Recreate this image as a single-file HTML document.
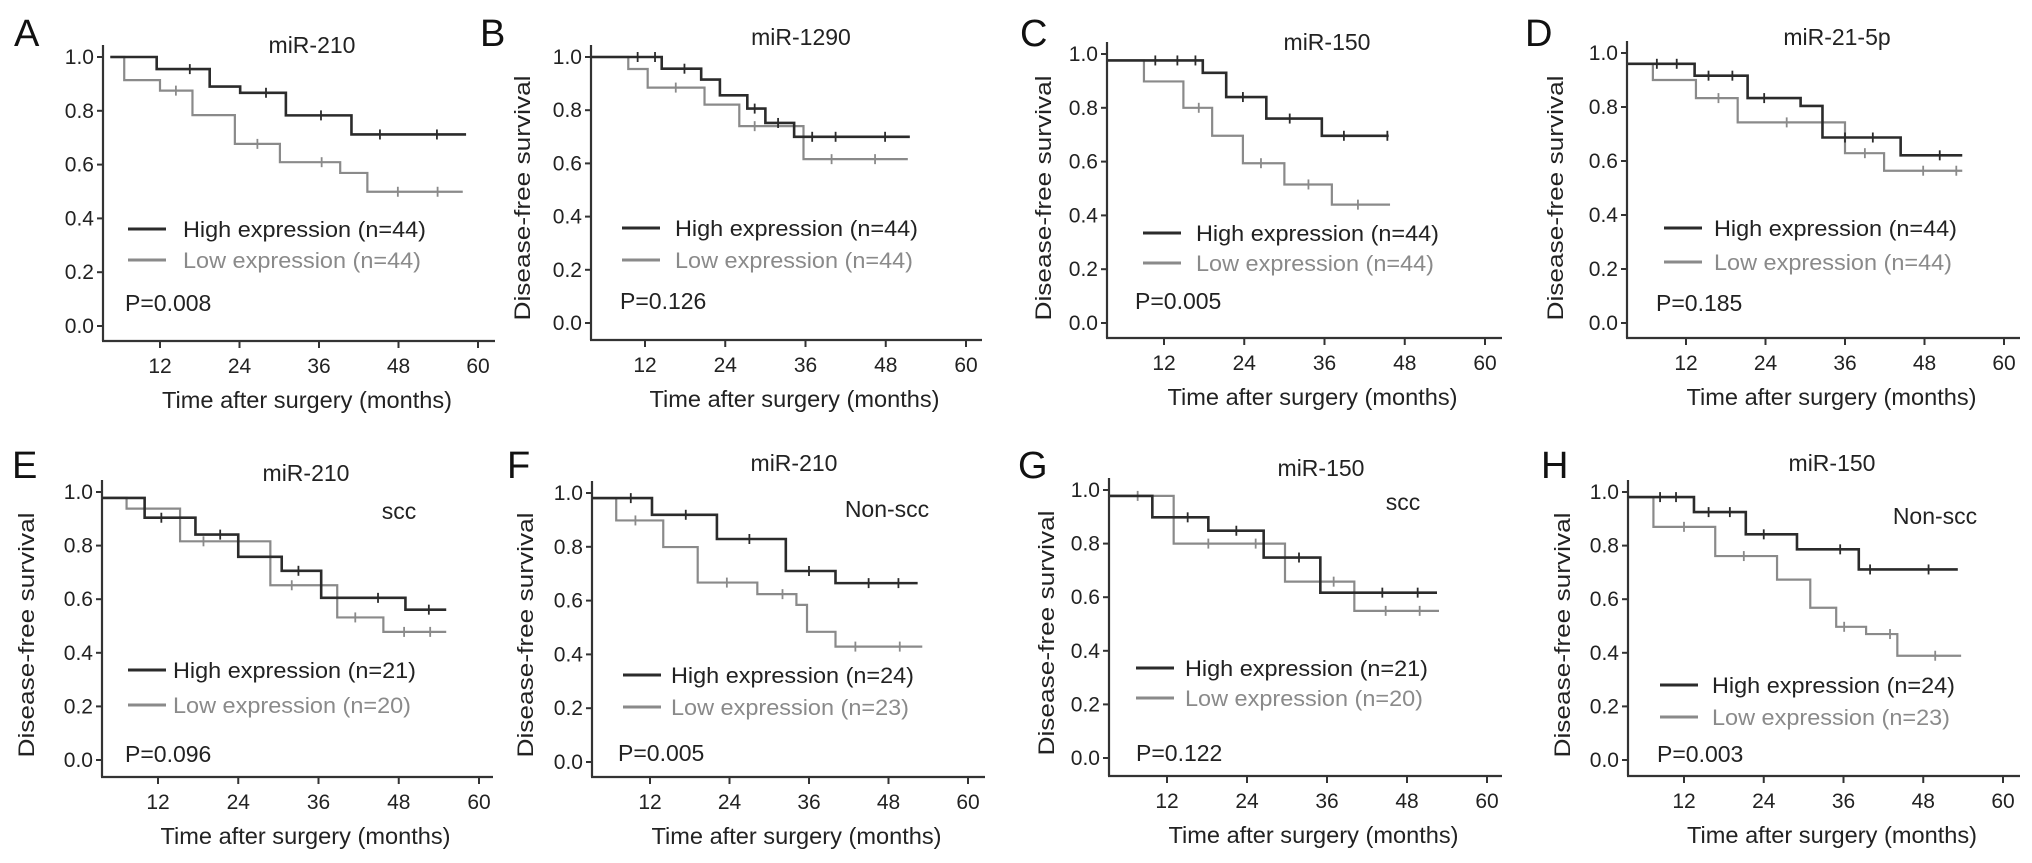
<!DOCTYPE html>
<html><head><meta charset="utf-8">
<style>
html,body{margin:0;padding:0;background:#fff;}
svg{display:block;font-family:"Liberation Sans",Arial,sans-serif;}
</style></head>
<body>
<svg id="fig" width="2032" height="863" viewBox="0 0 2032 863" xmlns="http://www.w3.org/2000/svg"></svg>
<script>
// ---- Data (months / survival probability) ----
const aHighT=[4.5,11.5,19.5,24.1,31,40.9,58.2];
const aHighS=[1.0,0.955,0.89,0.867,0.783,0.712];
const aHighC=[16.5,28,36.3,45.2,53.8];
const aLowT=[4.5,6.6,12.0,16.9,23.3,30.1,39.2,43.3,57.7];
const aLowS=[1.0,0.914,0.875,0.784,0.677,0.609,0.569,0.499];
const aLowC=[14.4,26.7,36.4,47.9,53.9];

const bHighT=[4,14.5,20.4,23.2,27.3,30,34.3,51.6];
const bHighS=[1.0,0.956,0.915,0.856,0.806,0.752,0.70];
const bHighC=[10.9,13.5,17.9,28.4,31.9,37,40.5,47.9];
const bLowT=[4,9.5,12.4,20.9,26.1,35.7,51.3];
const bLowS=[1.0,0.955,0.885,0.821,0.74,0.616];
const bLowC=[16.6,28.4,39.9,46.4];

const cHighT=[3.5,17.8,21.3,27.3,35.6,45.6];
const cHighS=[0.976,0.93,0.84,0.76,0.696];
const cHighC=[10.7,14,16.7,23.8,30.8,38.9,45.4];
const cLowT=[3.5,9,14.9,19.2,23.8,30,37.1,45.8];
const cLowS=[0.976,0.898,0.80,0.696,0.594,0.515,0.44];
const cLowC=[17.2,26.5,33.6,41];

const dHighT=[3.2,13.3,21.3,29.3,32.6,44.4,53.7];
const dHighS=[0.96,0.916,0.833,0.804,0.687,0.621];
const dHighC=[7.6,10.6,15.4,19,23.8,36,40.2,50.3];
const dLowT=[3.2,7,13.5,19.8,36,41.9,53.7];
const dLowS=[0.96,0.90,0.833,0.743,0.629,0.564];
const dLowC=[16.9,27.2,39,47.8,52.8];

const eHighT=[3.6,10,17.6,24,30.5,36.4,49,55.1];
const eHighS=[0.978,0.904,0.841,0.758,0.706,0.605,0.561];
const eHighC=[12.5,21.3,33,44.9,52.5];
const eLowT=[3.6,7.3,15.3,28.8,38.8,45.7,55.1];
const eLowS=[0.978,0.938,0.816,0.652,0.532,0.478];
const eLowC=[18.8,32,41.5,48.8,52.7];

const fHighT=[3.2,12.3,22.1,32.5,40,52.4];
const fHighS=[0.981,0.919,0.829,0.71,0.665];
const fHighC=[9.1,17.4,27,36,45,49.5];
const fLowT=[3.2,6.9,14,19.2,28.2,34.1,35.7,40,53.1];
const fLowS=[0.981,0.898,0.799,0.667,0.624,0.584,0.484,0.429];
const fLowC=[9.8,23.6,32,43,49.7];

const gHighT=[3.4,9.8,18.2,26.5,35,52.5];
const gHighS=[0.978,0.898,0.848,0.748,0.617];
const gHighC=[15.1,22.4,31.8,44.3,49.6];
const gLowT=[3.4,13,29.7,40.1,52.8];
const gLowS=[0.978,0.80,0.658,0.549];
const gLowC=[7.6,18.2,25.3,37,44.8,49.9];

const hHighT=[3.5,13.5,21.3,29,38.3,53.2];
const hHighS=[0.981,0.925,0.842,0.786,0.711];
const hHighC=[8.4,10.8,15.7,18.9,24,35.5,40,48.8];
const hLowT=[3.5,7.4,16.7,26,31,34.9,39.4,44.1,53.7];
const hLowS=[0.981,0.87,0.761,0.673,0.568,0.497,0.47,0.389];
const hLowC=[12,21,36.1,43,49.8];

const yTickVals=[0,0.2,0.4,0.6,0.8,1.0];
const yTickLabels=["0.0","0.2","0.4","0.6","0.8","1.0"];
const xTickVals=[12,24,36,48,60];
const xTickLabels=["12","24","36","48","60"];

const panels=[
 {id:"a",L:"A",lx:14,ly:46,title:"miR-210",tx:312,ty:53,yAxis:103,t12:160,t60:478,y1:57,y0:326,ax:341,end:495,yt:false,
  hi:[aHighT,aHighS,aHighC],lo:[aLowT,aLowS,aLowC],nh:44,nl:44,p:"P=0.008",px:125,py:311,lgx:25,lgt:80,lgy:[229,260],sub:null},
 {id:"b",L:"B",lx:480,ly:46,title:"miR-1290",tx:801,ty:45,yAxis:591,t12:645,t60:966,y1:57,y0:323,ax:340,end:982,yt:true,ytx:522,yty:198,
  hi:[bHighT,bHighS,bHighC],lo:[bLowT,bLowS,bLowC],nh:44,nl:44,p:"P=0.126",px:620,py:309,lgx:31,lgt:84,lgy:[228,260],sub:null},
 {id:"c",L:"C",lx:1020,ly:46,title:"miR-150",tx:1327,ty:50,yAxis:1107,t12:1164,t60:1485,y1:54,y0:323,ax:338,end:1502,yt:true,ytx:1043,yty:198,
  hi:[cHighT,cHighS,cHighC],lo:[cLowT,cLowS,cLowC],nh:44,nl:44,p:"P=0.005",px:1135,py:309,lgx:36,lgt:89,lgy:[233,263],sub:null},
 {id:"d",L:"D",lx:1525,ly:46,title:"miR-21-5p",tx:1837,ty:45,yAxis:1627,t12:1686,t60:2004,y1:53,y0:323,ax:338,end:2020,yt:true,ytx:1555,yty:198,
  hi:[dHighT,dHighS,dHighC],lo:[dLowT,dLowS,dLowC],nh:44,nl:44,p:"P=0.185",px:1656,py:311,lgx:37,lgt:87,lgy:[228,262],sub:null},
 {id:"e",L:"E",lx:12,ly:478,title:"miR-210",tx:306,ty:481,yAxis:102,t12:158,t60:479,y1:492,y0:760,ax:777,end:493,yt:true,ytx:26,yty:635,
  hi:[eHighT,eHighS,eHighC],lo:[eLowT,eLowS,eLowC],nh:21,nl:20,p:"P=0.096",px:125,py:762,lgx:26,lgt:71,lgy:[670,705],sub:"scc",sx:399,sy:519},
 {id:"f",L:"F",lx:507,ly:478,title:"miR-210",tx:794,ty:471,yAxis:592,t12:650,t60:968,y1:493,y0:762,ax:777,end:985,yt:true,ytx:525,yty:635,
  hi:[fHighT,fHighS,fHighC],lo:[fLowT,fLowS,fLowC],nh:24,nl:23,p:"P=0.005",px:618,py:761,lgx:31,lgt:79,lgy:[675,707],sub:"Non-scc",sx:887,sy:517},
 {id:"g",L:"G",lx:1018,ly:478,title:"miR-150",tx:1321,ty:476,yAxis:1109,t12:1167,t60:1487,y1:490,y0:758,ax:776,end:1502,yt:true,ytx:1046,yty:633,
  hi:[gHighT,gHighS,gHighC],lo:[gLowT,gLowS,gLowC],nh:21,nl:20,p:"P=0.122",px:1136,py:761,lgx:27,lgt:76,lgy:[668,698],sub:"scc",sx:1403,sy:510},
 {id:"h",L:"H",lx:1541,ly:478,title:"miR-150",tx:1832,ty:471,yAxis:1628,t12:1684,t60:2003,y1:492,y0:760,ax:776,end:2020,yt:true,ytx:1562,yty:635,
  hi:[hHighT,hHighS,hHighC],lo:[hLowT,hLowS,hLowC],nh:24,nl:23,p:"P=0.003",px:1657,py:762,lgx:32,lgt:84,lgy:[685,717],sub:"Non-scc",sx:1935,sy:524}
];

const NS="http://www.w3.org/2000/svg";
const svg=document.getElementById('fig');
function mk(tag,attrs,parent,text){
  const el=document.createElementNS(NS,tag);
  for(const k in attrs) el.setAttribute(k,attrs[k]);
  if(text!==undefined) el.textContent=text;
  parent.appendChild(el);
  return el;
}
function xScale(p,m){return p.t12+(m-12)*(p.t60-p.t12)/48;}
function yScale(p,v){return p.y0-v*(p.y0-p.y1);}
function survAt(T,S,m){let v=S[0];for(let i=1;i<S.length;i++){if(m>=T[i])v=S[i];}return v;}

const HI="#2b2b2b", LO="#8a8a8a";

panels.forEach(p=>{
  const g=mk('g',{},svg);
  
  

  const letter=mk('text',{x:p.lx,y:p.ly,'font-size':38,fill:'#111'},g,p.L);
  
  

  const t=mk('text',{x:p.tx,y:p.ty,'font-size':23,fill:'#222','text-anchor':'middle'},g,p.title);
  
  

  if(p.sub){
    const s=mk('text',{x:p.sx,y:p.sy,'font-size':23,fill:'#222','text-anchor':'middle'},g,p.sub);
    
    
  }

  const ya=mk('line',{x1:p.yAxis,y1:p.y1-12,x2:p.yAxis,y2:p.ax,stroke:'#333','stroke-width':2.2},g);
  
  
  const xa=mk('line',{x1:p.yAxis-1,y1:p.ax,x2:p.end,y2:p.ax,stroke:'#333','stroke-width':2.2},g);
  
  

  yTickVals.forEach((v,i)=>{
    const y=yScale(p,v);
    mk('line',{x1:p.yAxis-6,y1:y,x2:p.yAxis,y2:y,stroke:'#333','stroke-width':2},g);
    const tl=mk('text',{x:p.yAxis-9,y:y+7,'font-size':21,fill:'#222','text-anchor':'end'},g,yTickLabels[i]);
    
    
  });
  xTickVals.forEach((m,i)=>{
    const x=xScale(p,m);
    mk('line',{x1:x,y1:p.ax,x2:x,y2:p.ax+7,stroke:'#333','stroke-width':2},g);
    const tl=mk('text',{x:x,y:p.ax+32,'font-size':21,fill:'#222','text-anchor':'middle'},g,xTickLabels[i]);
    
    
  });

  const xt=mk('text',{x:(p.yAxis+p.end)/2+8,y:p.ax+67,'font-size':23,fill:'#222','text-anchor':'middle',textLength:290,lengthAdjust:'spacingAndGlyphs'},g,'Time after surgery (months)');
  
  

  if(p.yt){
    const yt=mk('text',{x:0,y:0,'font-size':22,fill:'#222','text-anchor':'middle',textLength:245,lengthAdjust:'spacingAndGlyphs',transform:`translate(${p.ytx+8},${p.yty}) rotate(-90)`},g,'Disease-free survival');
    
    
  }

  [[p.lo,LO,2.2,'low'],[p.hi,HI,2.6,'high']].forEach(([d,col,w,nm])=>{
    const T=d[0],S=d[1],C=d[2];
    let path=`M${xScale(p,T[0])},${yScale(p,S[0])}`;
    for(let i=1;i<T.length;i++){
      const x=xScale(p,T[i]);
      path+=` H${x}`;
      if(i<S.length) path+=` V${yScale(p,S[i])}`;
    }
    const c=mk('path',{d:path,fill:'none',stroke:col,'stroke-width':w},g);
    
    
    C.forEach(m=>{
      const x=xScale(p,m), y=yScale(p,survAt(T,S,m));
      const cm=mk('line',{x1:x,y1:y-5,x2:x,y2:y+5,stroke:col,'stroke-width':1.8},g);
      
      
    });
  });

  const lh=mk('line',{x1:p.yAxis+p.lgx,y1:p.lgy[0],x2:p.yAxis+p.lgx+38,y2:p.lgy[0],stroke:HI,'stroke-width':3},g);
  
  
  const lht=mk('text',{x:p.yAxis+p.lgt,y:p.lgy[0]+8,'font-size':22,fill:'#222',textLength:243,lengthAdjust:'spacingAndGlyphs'},g,`High expression (n=${p.nh})`);
  
  
  const ll=mk('line',{x1:p.yAxis+p.lgx,y1:p.lgy[1],x2:p.yAxis+p.lgx+38,y2:p.lgy[1],stroke:LO,'stroke-width':3},g);
  
  
  const llt=mk('text',{x:p.yAxis+p.lgt,y:p.lgy[1]+8,'font-size':22,fill:'#8a8a8a',textLength:238,lengthAdjust:'spacingAndGlyphs'},g,`Low expression (n=${p.nl})`);
  
  

  const pv=mk('text',{x:p.px,y:p.py,'font-size':23,fill:'#222'},g,p.p);
  
  
});
</script>
</body></html>
